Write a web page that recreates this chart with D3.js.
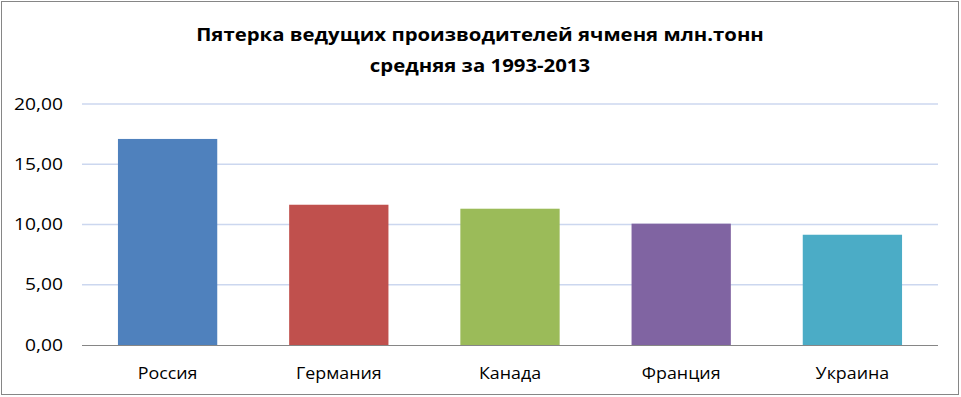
<!DOCTYPE html>
<html>
<head>
<meta charset="utf-8">
<script src="https://cdn.jsdelivr.net/npm/d3@7"></script>
<style>
  body { margin: 0; background: #fff; }
  svg { display: block; }
  text { font-family: "Open Sans", "Noto Sans", sans-serif; fill: #000; }
</style>
</head>
<body>
<svg id="chart" width="961" height="397"></svg>
<script>
const titleLines = ['Пятерка ведущих производителей ячменя млн.тонн', 'средняя за 1993-2013'];
const countries = ['Россия', 'Германия', 'Канада', 'Франция', 'Украина'];
const values = [17.10, 11.64, 11.31, 10.07, 9.15];
const colors = ['#4f81bd', '#c0504d', '#9bbb59', '#8064a2', '#4bacc6'];
const yTicks = [0, 5, 10, 15, 20];

const width = 961;
const height = 397;
const margin = { top: 104, right: 23, bottom: 52, left: 82 };

const svg = d3.select('#chart');

// the reference font (Calibri) renders wider than Open Sans, stretch a bit
const stretch = (sel, k) => sel.each(function () {
  const len = this.getComputedTextLength();
  d3.select(this).attr('textLength', len * k).attr('lengthAdjust', 'spacingAndGlyphs');
});

// outer frame
svg.append('rect')
  .attr('x', 1.5).attr('y', 1.5)
  .attr('width', width - 4).attr('height', height - 4)
  .attr('fill', '#fff')
  .attr('stroke', '#868686')
  .attr('stroke-width', 1);

const innerW = width - margin.left - margin.right;
const innerH = height - margin.top - margin.bottom;

const x = d3.scaleBand()
  .domain(countries)
  .range([0, innerW])
  .paddingInner(0.42)
  .paddingOuter(0.21);

const y = d3.scaleLinear().domain([0, 20]).range([innerH, 0]);

const chart = svg.append('g').attr('transform', `translate(${margin.left}, ${margin.top})`);

// gridlines
chart.append('g')
  .selectAll('line')
  .data(yTicks.filter((d) => d > 0))
  .join('line')
  .attr('x1', 0).attr('x2', innerW)
  .attr('y1', (d) => y(d)).attr('y2', (d) => y(d))
  .attr('stroke', '#ccd7ef')
  .attr('stroke-width', 1.5);

// y labels
const fmt = (d) => d.toFixed(2).replace('.', ',');
chart.append('g')
  .selectAll('text')
  .data(yTicks)
  .join('text')
  .attr('x', -19)
  .attr('y', (d) => y(d))
  .attr('dy', '0.36em')
  .attr('text-anchor', 'end')
  .style('font-size', '15.5px')
  .text(fmt)
  .call(stretch, 1.24);

// bars
chart.append('g')
  .selectAll('rect')
  .data(countries)
  .join('rect')
  .attr('x', (d) => x(d))
  .attr('width', x.bandwidth())
  .attr('y', (d, i) => y(values[i]))
  .attr('height', (d, i) => innerH - y(values[i]))
  .attr('fill', (d, i) => colors[i]);

// x axis line
chart.append('line')
  .attr('x1', 0).attr('x2', innerW)
  .attr('y1', innerH + 0.5).attr('y2', innerH + 0.5)
  .attr('stroke', '#868686')
  .attr('stroke-width', 1);

// category labels
chart.append('g')
  .selectAll('text')
  .data(countries)
  .join('text')
  .attr('x', (d) => x(d) + x.bandwidth() / 2)
  .attr('y', innerH + 29)
  .attr('dy', '0.35em')
  .attr('text-anchor', 'middle')
  .style('font-size', '15.5px')
  .text((d) => d)
  .call(stretch, 1.15);

// title
svg.append('g')
  .selectAll('text')
  .data(titleLines)
  .join('text')
  .attr('x', 480)
  .attr('y', (d, i) => 41 + i * 31)
  .attr('text-anchor', 'middle')
  .style('font-size', '18.5px')
  .style('font-weight', 'bold')
  .text((d) => d)
  .call(stretch, 1.1);
</script>
</body>
</html>
